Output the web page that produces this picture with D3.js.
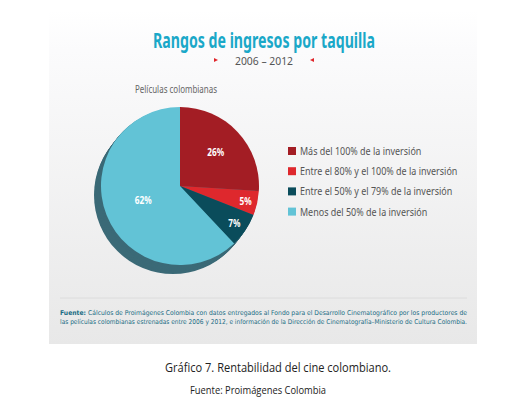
<!DOCTYPE html>
<html>
<head>
<meta charset="utf-8">
<script src="https://cdn.jsdelivr.net/npm/d3@7"></script>
<style>
  body { margin: 0; background: #fff; }
  #chart { width: 525px; height: 399px; }
</style>
</head>
<body>
<div id="chart"></div>
<script>
// data
var categories = [
  "Más del 100% de la inversión",
  "Entre el 80% y el 100% de la inversión",
  "Entre el 50% y el 79% de la inversión",
  "Menos del 50% de la inversión"
];
var values = [26, 5, 7, 62];
var colors = ["#a31d24", "#de282d", "#0a4c5b", "#62c3d6"];
var labelPos = [0.62, 0.85, 0.83, 0.5];

var title = "Rangos de ingresos por taquilla";
var subtitle = "2006 – 2012";
var pieTitle = "Películas colombianas";

var chart = { width: 525, height: 399, cx: 180, cy: 186, r: 79 };
var condensed = "'Noto Sans', 'DejaVu Sans', sans-serif";
var squeeze = 0.78;

const svg = d3
  .select("#chart")
  .append("svg")
  .attr("width", chart.width)
  .attr("height", chart.height);

/* panel background */
var grad = svg.append("defs").append("linearGradient")
  .attr("id", "panelGrad")
  .attr("x1", 0).attr("y1", 0).attr("x2", 0).attr("y2", 1);
grad.append("stop").attr("offset", "0%").attr("stop-color", "#ffffff");
grad.append("stop").attr("offset", "12%").attr("stop-color", "#fbfbfc");
grad.append("stop").attr("offset", "100%").attr("stop-color", "#e8e8e8");

svg.append("rect")
  .attr("x", 49).attr("y", 10)
  .attr("width", 428).attr("height", 334)
  .attr("fill", "url(#panelGrad)");

/* titles */
svg.append("text")
  .attr("x", 153).attr("y", 48)
  .attr("font-family", condensed)
  .attr("font-weight", "bold")
  .attr("font-size", 22)
  .attr("textLength", 222)
  .attr("lengthAdjust", "spacingAndGlyphs")
  .attr("fill", "#1aa8c8")
  .text(title);

svg.append("text")
  .attr("x", 235).attr("y", 65)
  .attr("font-family", condensed)
  .attr("font-size", 11.5)
  .attr("textLength", 58)
  .attr("lengthAdjust", "spacingAndGlyphs")
  .attr("fill", "#555")
  .text(subtitle);

svg.append("path")
  .attr("d", "M214,58 L218,60 L214,62 Z")
  .attr("fill", "#e0262b");
svg.append("path")
  .attr("d", "M314,58 L310,60 L314,62 Z")
  .attr("fill", "#e0262b");

svg.append("text")
  .attr("x", 135).attr("y", 93)
  .attr("font-family", condensed)
  .attr("font-size", 11)
  .attr("textLength", 82)
  .attr("lengthAdjust", "spacingAndGlyphs")
  .attr("fill", "#666")
  .text(pieTitle);

/* pie */
var pie = d3.pie().sort(null).value((d) => d);
var arcs = pie(values);
var arc = d3.arc().innerRadius(0).outerRadius(chart.r);

var g = svg.append("g")
  .attr("transform", `translate(${chart.cx}, ${chart.cy})`);

// extruded shadow toward lower-left
var steps = 10;
for (var i = steps; i >= 1; i--) {
  g.append("circle")
    .attr("cx", -7 * i / steps)
    .attr("cy", 9 * i / steps)
    .attr("r", chart.r)
    .attr("fill", "#3b6a77");
}

g.selectAll("path.slice")
  .data(arcs)
  .join("path")
  .attr("class", "slice")
  .attr("d", arc)
  .attr("fill", (d, i) => colors[i]);

g.selectAll("text.lbl")
  .data(arcs)
  .join("text")
  .attr("class", "lbl")
  .attr("transform", (d, i) => {
    var a = (d.startAngle + d.endAngle) / 2;
    var rr = chart.r * labelPos[i];
    return `translate(${Math.sin(a) * rr}, ${-Math.cos(a) * rr}) scale(0.75, 1)`;
  })
  .attr("text-anchor", "middle")
  .attr("dy", "0.35em")
  .attr("font-family", condensed)
  .attr("font-weight", "bold")
  .attr("font-size", 11)
  .attr("fill", "#fff")
  .text((d) => d.data + "%");

/* legend */
var legend = svg.append("g").attr("transform", "translate(288, 151)");
var row = legend.selectAll("g")
  .data(categories)
  .join("g")
  .attr("transform", (d, i) => `translate(0, ${i * 20.2})`);

row.append("rect")
  .attr("x", 0).attr("y", -4)
  .attr("width", 8).attr("height", 8)
  .attr("fill", (d, i) => colors[i]);

row.append("text")
  .attr("transform", `translate(12, 0) scale(${squeeze}, 1)`)
  .attr("dy", "0.35em")
  .attr("font-family", condensed)
  .attr("font-size", 11.5)
  .attr("fill", "#555")
  .text((d) => d);

/* source inside panel */
svg.append("line")
  .attr("x1", 60).attr("x2", 467)
  .attr("y1", 298).attr("y2", 298)
  .attr("stroke", "#dcdcdc")
  .attr("stroke-width", 1);

var src1 = svg.append("text")
  .attr("x", 60).attr("y", 315)
  .attr("font-family", "'DejaVu Sans', Verdana, sans-serif")
  .attr("font-size", 6.6)
  .attr("textLength", 407)
  .attr("lengthAdjust", "spacingAndGlyphs")
  .attr("fill", "#1a6c84");
src1.append("tspan").attr("font-weight", "bold").text("Fuente: ");
src1.append("tspan").text("Cálculos de Proimágenes Colombia con datos entregados al Fondo para el Desarrollo Cinematográfico por los productores de");

svg.append("text")
  .attr("x", 60).attr("y", 324)
  .attr("font-family", "'DejaVu Sans', Verdana, sans-serif")
  .attr("font-size", 6.6)
  .attr("textLength", 407)
  .attr("lengthAdjust", "spacingAndGlyphs")
  .attr("fill", "#1a6c84")
  .text("las películas colombianas estrenadas entre 2006 y 2012, e información de la Dirección de Cinematografía–Ministerio de Cultura Colombia.");

/* caption below */
svg.append("text")
  .attr("x", 165).attr("y", 372)
  .attr("font-family", "'Open Sans', Lato, sans-serif")
  .attr("font-size", 12)
  .attr("textLength", 226)
  .attr("lengthAdjust", "spacingAndGlyphs")
  .attr("fill", "#222")
  .text("Gráfico 7. Rentabilidad del cine colombiano.");

svg.append("text")
  .attr("x", 190).attr("y", 394)
  .attr("font-family", "'Open Sans', Lato, sans-serif")
  .attr("font-size", 10)
  .attr("textLength", 136)
  .attr("lengthAdjust", "spacingAndGlyphs")
  .attr("fill", "#222")
  .text("Fuente: Proimágenes Colombia");
</script>
</body>
</html>
